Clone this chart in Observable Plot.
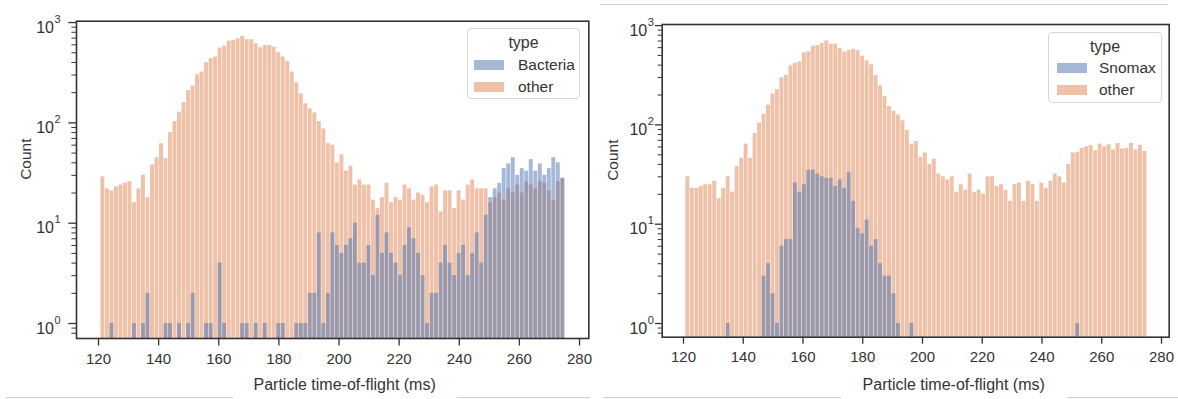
<!DOCTYPE html>
<html>
<head>
<meta charset="utf-8">
<script src="https://cdn.jsdelivr.net/npm/d3@7"></script>
<script src="https://cdn.jsdelivr.net/npm/@observablehq/plot@0.6"></script>
<style>
  html, body { margin: 0; padding: 0; background: #fff; }
  #wrap { position: relative; width: 1178px; height: 399px; overflow: hidden; font-family: "Liberation Sans", Arial, sans-serif; color: #333; }
  .panel { position: absolute; top: 0; }
  .legend { position: absolute; box-sizing: border-box; border: 1px solid #d6d6d6; border-radius: 4px; background: rgba(255,255,255,0.85); }
  .legend .title { position: absolute; left: 0; right: 0; text-align: center; font-size: 16px; line-height: 16px; }
  .legend .sw { position: absolute; width: 30px; height: 10px; }
  .legend .lab { position: absolute; font-size: 15.5px; line-height: 16px; }
  .rule { position: absolute; height: 1px; background: #cfcfcf; }
</style>
</head>
<body>
<div id="wrap"></div>
<script>
// ---- histogram bins (ms) ----
const binStart = 120.7;
const binWidth = 1.5;

// ---- tick values / labels ----
const xTicks = [120, 140, 160, 180, 200, 220, 240, 260, 280];
const yMajor = [1, 10, 100, 1000];
const yMinor = [0.8, 0.9, 2, 3, 4, 5, 6, 7, 8, 9, 20, 30, 40, 50, 60, 70, 80, 90, 200, 300, 400, 500, 600, 700, 800, 900];
const xLabel = "Particle time-of-flight (ms)";
const yLabel = "Count";
const legendTitle = "type";

// ---- left panel: Bacteria vs other (counts per bin) ----
const leftCategories = ["Bacteria", "other"];
const leftOther = [
  29,22,21,23,24,25,26,16,22,30,
  18,38,45,62,44,80,103,128,159,210,
  232,302,321,398,437,452,556,578,653,662,
  690,727,674,674,615,561,591,591,569,500,
  452,409,321,251,195,155,138,126,103,87,
  62,60,40,48,33,37,24,27,24,24,
  17,14,18,25,16,18,17,24,22,17,
  20,19,16,23,24,13,21,21,14,21,
  17,24,27,22,22,22,16,18,20,17,
  22,20,24,20,26,24,22,26,25,21,
  17,26,28
];
const leftBacteria = [
  0,0,1,0,0,0,0,1,0,1,
  2,0,0,0,1,1,0,1,0,1,
  2,0,0,1,1,0,4,1,0,0,
  0,1,1,0,1,0,1,0,0,1,
  1,0,0,1,1,1,2,2,8,1,
  2,8,6,5,6,7,10,4,4,6,
  3,12,5,8,5,4,3,6,9,7,
  5,3,1,2,2,4,6,4,3,5,
  6,3,5,8,4,12,18,22,25,35,
  39,45,30,35,33,43,33,39,30,35,
  45,40,28
];

// ---- right panel: Snomax vs other (counts per bin) ----
const rightCategories = ["Snomax", "other"];
const rightOther = [
  30,23,23,24,25,25,27,18,23,30,
  21,38,46,64,46,82,104,128,158,205,
  226,298,316,392,415,432,532,545,620,632,
  662,700,648,652,588,540,560,577,560,492,
  441,403,314,248,194,153,137,126,110,88,
  64,68,47,52,40,45,32,30,28,30,
  21,25,22,32,21,22,20,30,30,24,
  25,22,17,25,26,17,27,25,17,26,
  23,27,32,30,26,40,52,53,58,60,
  62,55,64,60,63,56,65,57,58,65,
  56,62,54
];
const rightSnomax = [
  0,0,0,0,0,0,0,0,0,1,
  0,0,0,0,0,0,0,3,4,2,
  1,6,7,7,26,21,25,35,35,32,
  30,29,29,24,28,23,33,17,9,8,
  11,6,7,4,3,3,2,1,0,0,
  1,0,0,0,0,0,0,0,0,0,
  0,0,0,0,0,0,0,0,0,0,
  0,0,0,0,0,0,0,0,0,0,
  0,0,0,0,0,0,0,1,0,0,
  0,0,0,0,0,0,0,0,0,0,
  0,0,0
];

const BLUE = "#4c72b0", ORANGE = "#dd8452", INK = "#333";

function rowsOf(counts) {
  return counts.map((c, i) => ({x1: binStart + i * binWidth, x2: binStart + (i + 1) * binWidth, count: c}))
               .filter(d => d.count > 0);
}

function panel(cfg) {
  const yMin = cfg.yDomain[0];
  const font = "Liberation Sans, Arial, sans-serif";
  return Plot.plot({
    width: cfg.width,
    height: 399,
    marginLeft: cfg.ml, marginRight: cfg.mr, marginTop: cfg.mt, marginBottom: cfg.mb,
    style: {fontFamily: font, color: INK, background: "transparent", overflow: "visible"},
    x: {domain: cfg.xDomain},
    y: {type: "log", domain: cfg.yDomain},
    marks: [
      Plot.rect(rowsOf(cfg.other), {x1: "x1", x2: "x2", y1: yMin, y2: "count", fill: ORANGE, fillOpacity: 0.5, insetLeft: 0.3, insetRight: 0.3}),
      Plot.rect(rowsOf(cfg.focus), {x1: "x1", x2: "x2", y1: yMin, y2: "count", fill: BLUE, fillOpacity: 0.5, insetLeft: 0.3, insetRight: 0.3}),
      Plot.frame({stroke: INK, strokeWidth: 1.6}),
      Plot.axisX(xTicks, {tickSize: cfg.tickX, tickPadding: 7, fontSize: 15, label: null, stroke: INK, strokeWidth: 1.3}),
      Plot.axisY(yMajor, {tickSize: cfg.tickY, fill: "none", label: null, stroke: INK, strokeWidth: 1.3}),
      Plot.axisY(yMinor, {tickSize: cfg.tickY * 0.6, fill: "none", label: null, stroke: INK, strokeWidth: 1}),
      Plot.text(yMajor, {y: d => d, text: () => "10", frameAnchor: "left", textAnchor: "end", dx: cfg.yLabDx, dy: 5, fontSize: 16, fill: INK}),
      Plot.text(yMajor, {y: d => d, text: d => String(Math.round(Math.log10(d))), frameAnchor: "left", textAnchor: "start", dx: cfg.yLabDx + 0.5, dy: -3.5, fontSize: 11, fill: INK}),
      Plot.text([yLabel], {frameAnchor: "left", rotate: -90, dx: cfg.yTitleDx, fontSize: 15.5, fill: INK}),
      Plot.text([xLabel], {frameAnchor: "bottom", dx: cfg.xTitleDx, dy: cfg.xTitleDy, fontSize: 16, fill: INK})
    ]
  });
}

const wrap = document.getElementById("wrap");

function place(el, left, width) {
  const d = document.createElement("div");
  d.className = "panel";
  d.style.left = left + "px";
  d.style.width = width + "px";
  d.appendChild(el);
  wrap.appendChild(d);
}

place(panel({
  width: 592, ml: 76, mr: 3.7, mt: 20.7, mb: 61,
  xDomain: [112.68, 283.09], yDomain: [0.709, 1032],
  other: leftOther, focus: leftBacteria,
  tickX: 7.5, tickY: 7.7, yLabDx: -22.5, yTitleDx: -50, xTitleDx: 12, xTitleDy: 51.5
}), 0, 592);

place(panel({
  width: 586, ml: 69.7, mr: 9.3, mt: 24, mb: 62.3,
  xDomain: [112.87, 282.58], yDomain: [0.728, 1026],
  other: rightOther, focus: rightSnomax,
  tickX: 7, tickY: 6.7, yLabDx: -15, yTitleDx: -49, xTitleDx: 38, xTitleDy: 52.5
}), 592, 586);

function legend(left, top, width, height, cats, titleTop, rowTops, swLeft, labLeft) {
  const box = document.createElement("div");
  box.className = "legend";
  Object.assign(box.style, {left: left + "px", top: top + "px", width: width + "px", height: height + "px"});
  const t = document.createElement("div");
  t.className = "title"; t.textContent = legendTitle; t.style.top = titleTop + "px";
  box.appendChild(t);
  const colors = [BLUE, ORANGE];
  cats.forEach((c, i) => {
    const sw = document.createElement("div");
    sw.className = "sw";
    Object.assign(sw.style, {left: swLeft + "px", top: (rowTops[i] - 5) + "px", background: colors[i], opacity: 0.5});
    box.appendChild(sw);
    const lab = document.createElement("div");
    lab.className = "lab"; lab.textContent = c;
    Object.assign(lab.style, {left: labLeft + "px", top: (rowTops[i] - 8) + "px"});
    box.appendChild(lab);
  });
  wrap.appendChild(box);
}
legend(467, 28, 113, 71, leftCategories, 6, [36, 58], 6, 50);
legend(1048, 32, 114, 71, rightCategories, 6, [35, 57], 8, 50);

// faint page rules seen in the reference
[[600, 4, 568], [6, 397, 227], [457, 397, 133], [603, 397, 238], [1067, 397, 111]].forEach(([l, t, w]) => {
  const r = document.createElement("div");
  r.className = "rule";
  Object.assign(r.style, {left: l + "px", top: t + "px", width: w + "px"});
  wrap.appendChild(r);
});
</script>
</body>
</html>
